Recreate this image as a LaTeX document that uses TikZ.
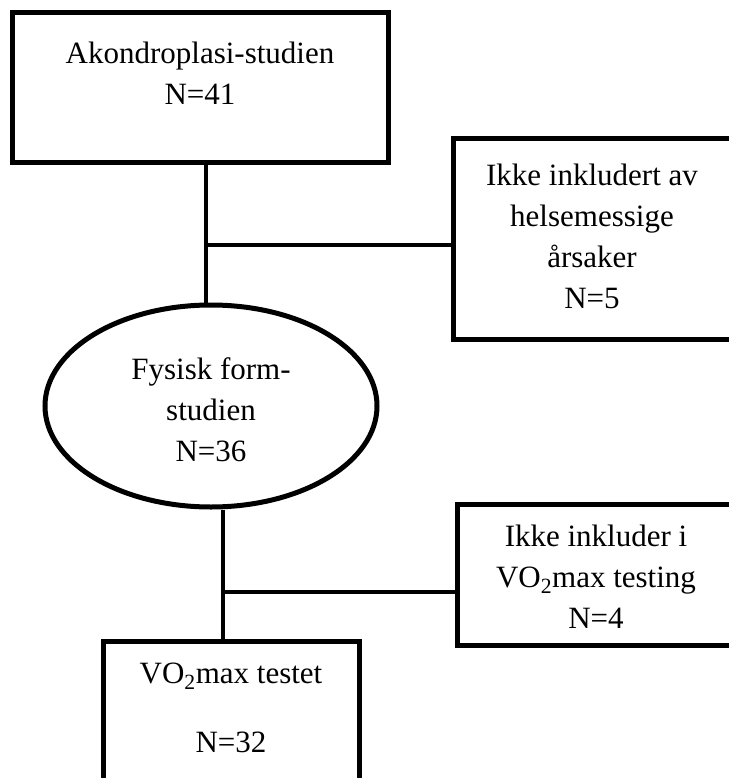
\documentclass[tikz,border=0pt]{standalone}
\usepackage{fontspec}
\setmainfont{Liberation Serif}
\usetikzlibrary{shapes.geometric}
\begin{document}
\begin{tikzpicture}[x=1pt,y=-1pt,
  box/.style={draw, line width=5pt, rectangle, inner sep=0pt},
  oval/.style={draw, line width=5pt, ellipse, inner sep=0pt},
  txt/.style={align=center, inner sep=0pt, font=\fontsize{31}{41}\selectfont},
  conn/.style={line width=4.5pt}]
\useasboundingbox (0,0) rectangle (728,778);
% shapes
\node[box, minimum width=376pt, minimum height=150pt] (b1) at (200,88) {};
\node[box, minimum width=280pt, minimum height=200pt] (b2) at (593,239) {};
\node[oval, minimum width=332pt, minimum height=202pt] (ell) at (211,406) {};
\node[box, minimum width=278pt, minimum height=141pt] (b3) at (596,574.5) {};
\node[box, minimum width=256pt, minimum height=189pt] (b4) at (231,735.5) {};
% texts
\node[txt] (t1) at (200,73) {Akondroplasi-studien\\N=41};
\node[txt] (t2) at (592,236) {Ikke inkludert av\\helsemessige\\årsaker\\N=5};
\node[txt] (t3) at (211,410) {Fysisk form-\\studien\\N=36};
\node[txt] (t4) at (596,577) {Ikke inkluder i\\VO\textsubscript{2}max testing\\N=4};
\node[txt] (t5) at (231,708) {VO\textsubscript{2}max testet\\[28pt]N=32};
% connectors
\coordinate (j1) at (206,245);
\coordinate (j2) at (223,592);
\draw[conn] (b1.south -| j1) -- (j1 |- ell.north);
\draw[conn] (j1) -- (j1 -| b2.west);
\draw[conn] (j2 |- ell.south) -- (j2 |- b4.north);
\draw[conn] (j2) -- (j2 -| b3.west);
\end{tikzpicture}
\end{document}
